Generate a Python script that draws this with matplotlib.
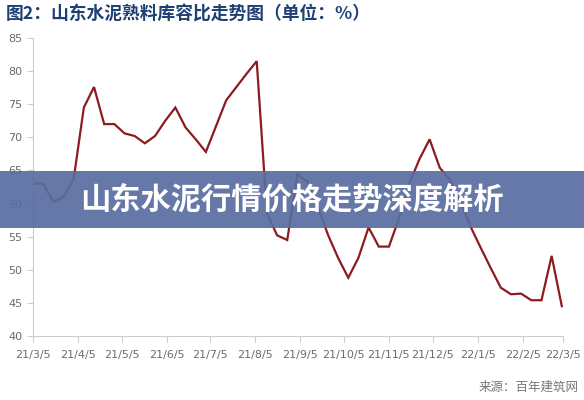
import numpy as np
import pandas as pd
import matplotlib
matplotlib.use("Agg")
import matplotlib.pyplot as plt
from matplotlib.patches import Rectangle

plt.rcParams['font.family'] = ['Noto Sans CJK SC', 'DejaVu Sans']

# weekly clinker storage ratio, Shandong (%)
start_date = '2021-03-05'
ratio = [63.0, 63.0, 60.3, 61.0, 63.7, 74.5, 77.6, 72.0, 72.0, 70.6,
         70.2, 69.1, 70.2, 72.5, 74.5, 71.5, 69.7, 67.8, 71.7, 75.6,
         77.6, 79.6, 81.5, 58.6, 55.2, 54.5, 64.4, 63.3, 59.6, 55.3,
         51.8, 48.8, 51.8, 56.4, 53.5, 53.5, 57.8, 63.0, 66.7, 69.7,
         65.4, 63.6, 60.5, 56.6, 53.4, 50.3, 47.3, 46.3, 46.4, 45.4,
         45.4, 52.1, 44.5]
dates = pd.date_range(start_date, periods=len(ratio), freq='7D')

tick_dates = pd.date_range('2021-03-01', '2022-03-01', freq='MS') + pd.Timedelta(days=4)
tick_labels = [f"{d.year % 100}/{d.month}/{d.day}" for d in tick_dates]
y_ticks = list(range(40, 90, 5))

title = '图2：山东水泥熟料库容比走势图（单位：%）'
banner = '山东水泥行情价格走势深度解析'
source = '来源：百年建筑网'

fig = plt.figure(figsize=(5.84, 4.0), dpi=100)
ax = fig.add_axes([0.0565, 0.16, 0.908, 0.745])

ax.plot(dates, ratio, color='#8e1b1f', lw=1.6, solid_joinstyle='miter')

ax.set_ylim(40, 85)
ax.set_yticks(y_ticks)
ax.set_xlim(tick_dates[0], tick_dates[-1])
ax.set_xticks(tick_dates)
ax.set_xticklabels(tick_labels)

for s in ['top', 'right']:
    ax.spines[s].set_visible(False)
for s in ['left', 'bottom']:
    ax.spines[s].set_color('#cccccc')
    ax.spines[s].set_linewidth(0.8)
ax.tick_params(axis='both', colors='#cccccc', length=4, width=0.8,
               labelsize=8, labelcolor='#6b6b6b')
ax.tick_params(axis='x', pad=6)
for lbl in ax.get_xticklabels() + ax.get_yticklabels():
    lbl.set_family('DejaVu Sans')

fig.text(0.01, 0.965, title, fontsize=12.8, fontweight='bold', color='#1d3f73',
         ha='left', va='center')

fig.patches.append(Rectangle((0, 0.43), 1, 0.143, transform=fig.transFigure,
                             facecolor='#586ca0', alpha=0.92, zorder=5))
fig.text(0.5, 0.50, banner, fontsize=21.8, fontweight='bold', color='white',
         ha='center', va='center', zorder=6)

fig.text(0.99, 0.032, source, fontsize=9, color='#777777', ha='right', va='center')

fig.savefig('out.png', dpi=100)
